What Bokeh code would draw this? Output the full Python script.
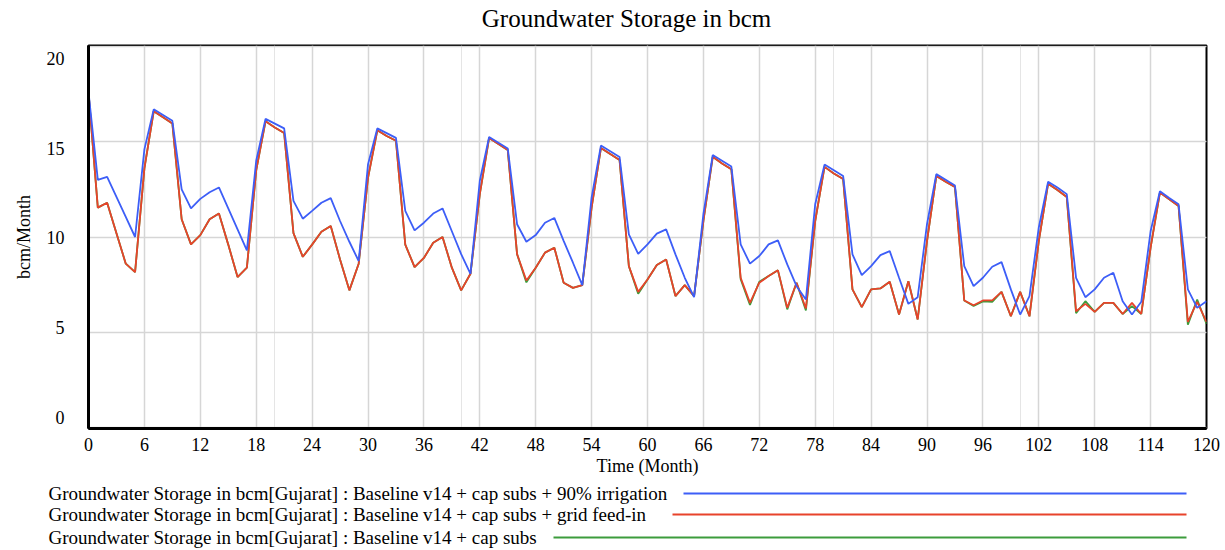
from bokeh.plotting import figure
from bokeh.models import Range1d, FixedTicker, Grid, LinearAxis, ColumnDataSource
from bokeh.layouts import column, row
from bokeh.embed import file_html
from bokeh.resources import INLINE
from bokeh.core.properties import value

# ---------------- data ----------------
months = list(range(121))

blue_90_irrigation = [
    17.6, 13.0, 13.16, 12.1, 11.05, 10.0, 14.6, 16.7, 16.4, 16.1,
    12.5, 11.5, 12.0, 12.35, 12.6, 11.5, 10.4, 9.3, 14.0, 16.2,
    15.95, 15.7, 11.9, 10.96, 11.37, 11.8, 12.04, 10.84, 9.75, 8.74,
    13.8, 15.7, 15.45, 15.2, 11.37, 10.35, 10.75, 11.23, 11.5, 10.3,
    9.1, 8.07, 12.95, 15.25, 14.95, 14.65, 10.67, 9.75, 10.1, 10.75,
    11.0, 9.8, 8.65, 7.47, 12.07, 14.8, 14.5, 14.2, 10.14, 9.12,
    9.61, 10.18, 10.4, 9.09, 7.86, 6.84, 11.2, 14.3, 14.0, 13.7,
    9.61, 8.6, 9.0, 9.61, 9.82, 8.56, 7.42, 6.72, 11.72, 13.8,
    13.5, 13.2, 9.09, 8.0, 8.47, 9.05, 9.26, 7.86, 6.49, 6.84,
    10.67, 13.3, 13.0, 12.7, 8.47, 7.42, 7.86, 8.44, 8.68, 7.25,
    5.93, 6.9, 10.5, 12.9, 12.6, 12.25, 7.86, 6.84, 7.25, 7.86,
    8.12, 6.63, 5.93, 6.6, 10.3, 12.4, 12.05, 11.72, 7.25, 6.28,
    6.63,
]

red_grid_feed_in = [
    17.6, 11.54, 11.8, 10.2, 8.6, 8.16, 13.6, 16.6, 16.28, 15.96,
    10.93, 9.61, 10.1, 10.93, 11.23, 9.6, 7.9, 8.39, 13.5, 16.07,
    15.75, 15.46, 10.2, 8.96, 9.6, 10.28, 10.58, 8.82, 7.2, 8.6,
    13.1, 15.6, 15.3, 15.05, 9.6, 8.42, 8.9, 9.7, 10.0, 8.39,
    7.2, 8.07, 12.25, 15.2, 14.88, 14.56, 9.1, 7.72, 8.39, 9.18,
    9.44, 7.6, 7.33, 7.47, 11.54, 14.67, 14.35, 14.04, 8.47, 7.12,
    7.77, 8.53, 8.82, 6.9, 7.47, 6.9, 10.84, 14.21, 13.86, 13.56,
    7.86, 6.54, 7.6, 7.95, 8.25, 6.28, 7.6, 6.25, 10.84, 13.68,
    13.33, 13.04, 7.25, 6.32, 7.25, 7.3, 7.65, 5.93, 7.68, 5.67,
    9.79, 13.2, 12.9, 12.63, 6.67, 6.42, 6.67, 6.67, 7.12, 5.84,
    7.12, 5.84, 9.79, 12.8, 12.47, 12.1, 6.1, 6.49, 6.07, 6.54,
    6.54, 5.96, 6.54, 5.96, 9.44, 12.33, 11.98, 11.63, 5.54, 6.6,
    5.54,
]

green_cap_subs = [
    17.6, 11.54, 11.8, 10.2, 8.6, 8.16, 13.6, 16.6, 16.28, 15.96,
    10.93, 9.61, 10.1, 10.93, 11.23, 9.6, 7.9, 8.39, 13.5, 16.07,
    15.75, 15.46, 10.2, 8.96, 9.6, 10.28, 10.58, 8.82, 7.2, 8.6,
    13.1, 15.6, 15.3, 15.05, 9.6, 8.42, 8.9, 9.7, 10.0, 8.39,
    7.2, 8.07, 12.25, 15.2, 14.88, 14.56, 9.1, 7.62, 8.39, 9.18,
    9.44, 7.6, 7.33, 7.47, 11.54, 14.67, 14.35, 14.04, 8.47, 7.02,
    7.77, 8.53, 8.82, 6.9, 7.47, 6.9, 10.84, 14.21, 13.86, 13.56,
    7.78, 6.44, 7.65, 7.95, 8.25, 6.2, 7.6, 6.15, 10.84, 13.68,
    13.33, 13.04, 7.25, 6.32, 7.25, 7.3, 7.65, 5.93, 7.68, 5.67,
    9.79, 13.2, 12.9, 12.63, 6.67, 6.38, 6.62, 6.6, 7.12, 5.84,
    7.12, 5.84, 9.79, 12.8, 12.47, 12.1, 6.0, 6.63, 6.07, 6.54,
    6.54, 5.96, 6.37, 5.96, 9.44, 12.33, 11.98, 11.63, 5.4, 6.72,
    5.44,
]

chart_title = "Groundwater Storage in bcm"
legend_labels = [
    "Groundwater Storage in bcm[Gujarat] : Baseline v14 + cap subs + 90% irrigation",
    "Groundwater Storage in bcm[Gujarat] : Baseline v14 + cap subs + grid feed-in",
    "Groundwater Storage in bcm[Gujarat] : Baseline v14 + cap subs",
]
x_ticks = list(range(0, 121, 6))
y_ticks = [0, 5, 10, 15, 20]

# ---------------- styling ----------------
FONT = "Liberation Serif"
BLUE = "#3d5ef7"
RED = "#e8432b"
GREEN = "#3c9c3c"
GRID = "#d6d6d6"
W = 1225
FRAME_L, FRAME_R = 88, 1206
TITLE_H = 40


def strip(height, y_top):
    """A helper figure whose data coordinates equal page pixel coordinates."""
    f = figure(width=W, height=height,
               x_range=Range1d(0, W), y_range=Range1d(y_top + height, y_top),
               output_backend="svg", toolbar_location=None,
               x_axis_location=None, y_axis_location=None,
               min_border=0, outline_line_color=None)
    f.xgrid.visible = False
    f.ygrid.visible = False
    return f


# ---------------- title strip ----------------
tf = strip(TITLE_H, 0)
tf.text(x=[626], y=[18], text=[chart_title], text_font=value(FONT),
        text_font_size="25px", text_baseline="middle", text_align="center",
        text_color="black")

# ---------------- main chart ----------------
src = ColumnDataSource(dict(m=months, blue=blue_90_irrigation,
                            red=red_grid_feed_in, green=green_cap_subs))

p = figure(width=W, height=440,
           x_range=Range1d(0, 120), y_range=Range1d(-0.05, 20.05),
           output_backend="svg", toolbar_location=None,
           x_axis_location=None, y_axis_location=None,
           min_border_left=FRAME_L, min_border_right=W - FRAME_R,
           min_border_top=45 - TITLE_H, min_border_bottom=52)

p.outline_line_color = "black"
p.outline_line_width = 2
p.outline_line_alpha = 1.0

# label axis range (Vensim places labels slightly differently from grid)
p.extra_y_ranges = {"lab": Range1d(-0.63, 20.74)}

yax = LinearAxis(y_range_name="lab", ticker=FixedTicker(ticks=y_ticks),
                 axis_label="bcm/Month")
xax = LinearAxis(ticker=FixedTicker(ticks=x_ticks), axis_label="Time (Month)")
for ax in (xax, yax):
    ax.axis_line_color = "black"
    ax.axis_line_width = 3
    ax.major_tick_line_color = None
    ax.minor_tick_line_color = None
    ax.major_label_text_font = FONT
    ax.major_label_text_font_size = "18px"
    ax.major_label_text_color = "black"
    ax.axis_label_text_font = FONT
    ax.axis_label_text_font_size = "18px"
    ax.axis_label_text_font_style = "normal"
    ax.axis_label_text_color = "black"
yax.major_label_standoff = 18
yax.axis_label_standoff = 10
xax.major_label_standoff = 3
xax.axis_label_standoff = 2
p.add_layout(yax, "left")
p.add_layout(xax, "below")

p.add_layout(Grid(dimension=0, ticker=FixedTicker(ticks=x_ticks),
                  grid_line_color=GRID, grid_line_width=1.5))
p.add_layout(Grid(dimension=1, ticker=FixedTicker(ticks=y_ticks),
                  grid_line_color=GRID, grid_line_width=1.5))

p.line("m", "green", source=src, line_color=GREEN, line_width=1.8)
p.line("m", "red", source=src, line_color=RED, line_width=1.8)
p.line("m", "blue", source=src, line_color=BLUE, line_width=1.8)

# ---------------- legend strip ----------------
lg = strip(70, 480)
rows_y = [493, 514, 537]
lg.text(x=[48, 48, 48], y=rows_y, text=legend_labels,
        text_font=value(FONT), text_font_size="19px",
        text_baseline="middle", text_align="left", text_color="black")
lg.segment(x0=[683, 672, 553], y0=rows_y, x1=[1186, 1186, 1186], y1=rows_y,
           line_color=[BLUE, RED, GREEN], line_width=2)

layout = column(row(tf, spacing=0), p, row(lg, spacing=0), spacing=0)
open("out.html", "w").write(file_html(layout, INLINE))
